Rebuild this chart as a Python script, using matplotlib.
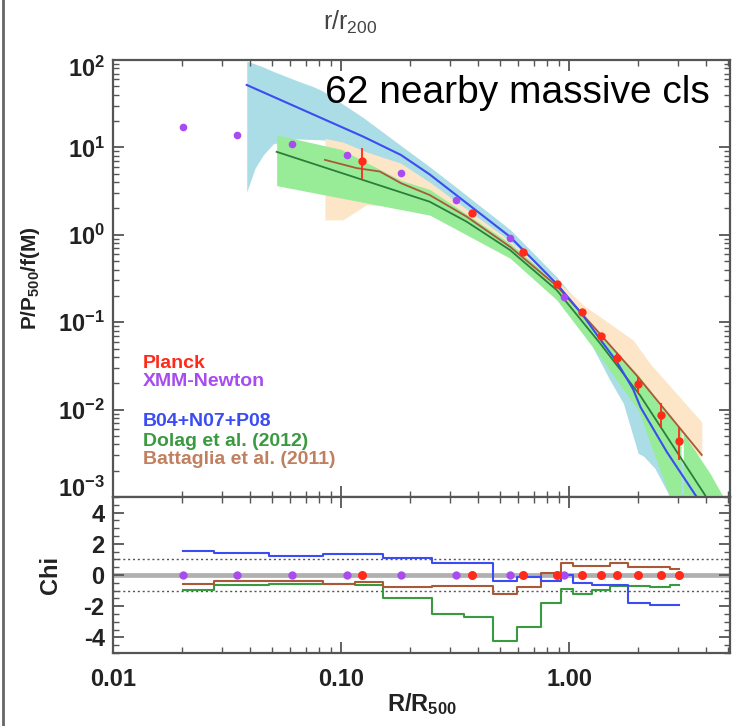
import numpy as np
import matplotlib
matplotlib.use('Agg')
import matplotlib.pyplot as plt
import matplotlib.transforms as mtransforms
from matplotlib import font_manager
from matplotlib.lines import Line2D
from matplotlib.ticker import NullFormatter, LogLocator, MultipleLocator

plt.rcParams['font.family'] = ['Liberation Sans', 'DejaVu Sans']
plt.rcParams['mathtext.fontset'] = 'custom'
plt.rcParams['mathtext.rm'] = 'Liberation Sans'
plt.rcParams['mathtext.it'] = 'Liberation Sans:italic'
plt.rcParams['mathtext.bf'] = 'Liberation Sans:bold'

# ── data ─────────────────────────────────────────────────────────────────────
# Planck points (red) with error bars
planck_x  = [0.124, 0.374, 0.631, 0.883, 1.137, 1.38, 1.63, 2.01, 2.53, 3.03]
planck_y  = [7.0, 1.76, 0.641, 0.271, 0.132, 0.070, 0.0386, 0.0196, 0.00867, 0.00437]
planck_lo = [4.35, 1.62, 0.60, 0.255, 0.124, 0.065, 0.034, 0.0154, 0.00637, 0.00265]
planck_hi = [9.8, 1.90, 0.68, 0.287, 0.140, 0.075, 0.044, 0.0238, 0.0118, 0.00637]

# XMM-Newton points (purple)
xmm_x = [0.0202, 0.0351, 0.0611, 0.106, 0.183, 0.318, 0.551, 0.953]
xmm_y = [17.0, 13.9, 10.9, 8.2, 5.05, 2.50, 0.91, 0.196]

# B04+N07+P08 (blue) line and band
b04_x = [0.0386, 0.125, 0.183, 0.245, 0.32, 0.551, 0.883, 1.137, 1.38, 1.62, 1.91, 2.06, 2.68, 3.63, 4.0]
b04_y = [51.8, 13.3, 8.2, 4.9, 2.85, 0.95, 0.275, 0.125, 0.062, 0.0353, 0.0171, 0.0106, 0.0033, 0.001, 0.0006]
b04_bx = [0.0386, 0.042, 0.0456, 0.0505, 0.064, 0.0757, 0.0834, 0.125, 0.183, 0.245, 0.32, 0.551,
          0.883, 1.137, 1.51, 1.73, 2.01, 2.12, 2.38, 2.77, 3.0, 3.63, 4.2]
b04_up = [97, 90, 83, 74, 58, 49.5, 44, 22, 10.5, 6.0, 3.5, 1.15,
          0.33, 0.15, 0.058, 0.034, 0.016, 0.0125, 0.0075, 0.0040, 0.0030, 0.0013, 0.0006]
b04_lo = [3.1, 5.8, 8.2, 11.0, 12.5, 12.3, 12.2, 9.0, 5.5, 3.6, 2.1, 0.75,
          0.22, 0.09, 0.0218, 0.0118, 0.00316, 0.00294, 0.00213, 0.001, 0.0007, 0.0003, 0.0002]

# Dolag et al. (2012) (green) line and band
dol_x = [0.0522, 0.245, 0.356, 0.551, 0.883, 1.37, 2.05, 3.95, 4.3]
dol_y = [8.9, 2.39, 1.41, 0.67, 0.233, 0.057, 0.0145, 0.00105, 0.0006]
dol_tx = [0.0522, 0.1, 0.183, 0.245, 0.551, 0.883, 1.156, 2.01, 3.17, 4.15, 4.75, 5.2]
dol_top = [13.9, 9.5, 4.2, 3.3, 0.80, 0.28, 0.1156, 0.0249, 0.00536, 0.00187, 0.001, 0.0005]
dol_bx = [0.0522, 0.245, 0.551, 0.883, 1.37, 2.01, 2.77, 3.1]
dol_bot = [3.65, 1.68, 0.54, 0.18, 0.040, 0.0099, 0.001, 0.0005]

# Battaglia et al. (2011) (brown) line and band
bat_x = [0.085, 0.117, 0.148, 0.183, 0.245, 0.356, 0.551, 0.883, 1.32, 2.01, 3.82]
bat_y = [7.2, 5.8, 5.3, 3.9, 2.85, 1.61, 0.73, 0.26, 0.0815, 0.0235, 0.00303]
bat_bx = [0.085, 0.102, 0.129, 0.183, 0.245, 0.32, 0.551, 0.883, 1.156, 1.91, 2.26, 3.75, 3.82]
bat_up = [12.7, 11.5, 8.9, 6.6, 4.0, 2.4, 0.85, 0.30, 0.157, 0.0625, 0.0339, 0.0076, 0.0072]
bat_lo = [1.48, 1.48, 2.2, 2.1, 1.8, 1.2, 0.58, 0.2, 0.09, 0.02, 0.009, 0.0029, 0.0029]

# chi of each model at the combined data radii
chi_x = [0.0202, 0.0351, 0.0611, 0.106, 0.124, 0.183, 0.318, 0.374, 0.551,
         0.631, 0.883, 0.953, 1.137, 1.38, 1.63, 2.01, 2.53, 3.03]
chi_b04 = [1.56, 1.43, 1.22, 1.32, 1.32, 1.07, 0.79, 0.79, -0.36,
           -0.11, -0.36, 0.0, -0.53, -0.64, -0.64, -1.81, -1.92, -1.92]
chi_dol = [-0.96, -0.64, -0.58, -0.58, -0.64, -1.50, -2.50, -2.67, -4.21,
           -3.31, -1.81, -0.92, -1.22, -0.96, -0.68, -0.68, -0.78, -0.64]
chi_bat = [-0.60, -0.36, -0.36, -0.60, -0.47, -0.80, -0.70, -0.70, -1.22,
           -0.79, 0.10, 0.75, 0.58, 0.58, 0.75, 0.53, 0.53, 0.36]

p_ticks = [1e-3, 1e-2, 1e-1, 1e0, 1e1, 1e2]
p_ticklabels = [r'$\mathbf{10^{%d}}$' % e for e in range(-3, 3)]
chi_ticks = [-4, -2, 0, 2, 4]
chi_ticklabels = ['-4', '-2', '0', '2', '4']
r_ticks = [0.01, 0.1, 1.0]
r_ticklabels = ['0.01', '0.10', '1.00']

legend_labels = ['Planck', 'XMM-Newton', 'B04+N07+P08', 'Dolag et al. (2012)', 'Battaglia et al. (2011)']

# ── colours ──────────────────────────────────────────────────────────────────
c_planck = '#ff2a1a'
c_xmm = '#a84cf0'
c_blue = '#3a4cf2'
c_green_line = '#2b7d3a'
c_green = '#3a9a40'
c_brown = '#a85a38'
c_brown_txt = '#c08060'
band_blue = '#aadde6'
band_green = '#98ec98'
band_peach = '#fde5c8'
frame = '#555555'
txt = '#222222'

W, H = 739, 726
fig = plt.figure(figsize=(W / 100, H / 100), dpi=100)
fig.patch.set_facecolor('white')

def box(l, t, r, b):
    return [l / W, 1 - b / H, (r - l) / W, (b - t) / H]

ax = fig.add_axes(box(113, 60, 730, 497))
axc = fig.add_axes(box(113, 497, 730, 653), sharex=ax)

# ── upper panel ──────────────────────────────────────────────────────────────
ax.fill_between(b04_bx, b04_lo, b04_up, color=band_blue, lw=0, zorder=1)
ax.fill_between(bat_bx, bat_lo, bat_up, color=band_peach, lw=0, zorder=2)
gx = np.union1d(dol_tx, dol_bx)
gx = gx[gx <= dol_bx[-1]]
g_top = 10 ** np.interp(np.log10(gx), np.log10(dol_tx), np.log10(dol_top))
g_bot = 10 ** np.interp(np.log10(gx), np.log10(dol_bx), np.log10(dol_bot))
ax.fill_between(gx, g_bot, g_top, color=band_green, lw=0, zorder=3)
gx2 = [x for x in dol_tx if x >= dol_bx[-1]]
g_top2 = [10 ** np.interp(np.log10(x), np.log10(dol_tx), np.log10(dol_top)) for x in gx2]
ax.fill_between(gx2, 1e-5, g_top2, color=band_green, lw=0, zorder=3)

ax.plot(bat_x, bat_y, color=c_brown, lw=1.3, zorder=4)
ax.plot(dol_x, dol_y, color=c_green_line, lw=1.3, zorder=5)
ax.plot(b04_x, b04_y, color=c_blue, lw=1.5, zorder=6)

ax.plot(xmm_x, xmm_y, 'o', color=c_xmm, ms=5.5, mec='none', zorder=7)
p_y = np.array(planck_y)
yerr = [p_y - np.array(planck_lo), np.array(planck_hi) - p_y]
ax.errorbar(planck_x, planck_y, yerr=yerr, fmt='o', color=c_planck, ms=6, mec='none',
            elinewidth=1.3, capsize=0, zorder=8)

ax.set_xscale('log')
ax.set_yscale('log')
ax.set_xlim(0.01, 5.08)
ax.set_ylim(1e-3, 1e2)
ax.set_yticks(p_ticks, p_ticklabels)
ax.yaxis.set_minor_locator(LogLocator(base=10, subs=np.arange(2, 10), numticks=20))
ax.yaxis.set_minor_formatter(NullFormatter())

try:
    font_manager.findfont('Liberation Sans Narrow', fallback_to_default=False)
    title_font, title_size = 'Liberation Sans Narrow', 34
except ValueError:
    title_font, title_size = 'Liberation Sans', 28
fig.text(710 / W, 1 - 103 / H, '62 nearby massive cls', ha='right', va='baseline',
         fontsize=title_size, family=title_font, color='black')

leg_colors = [c_planck, c_xmm, c_blue, c_green, c_brown_txt]
leg_y = [363, 382, 421, 441, 460]
for lab, col, yy in zip(legend_labels, leg_colors, leg_y):
    fig.text(143 / W, 1 - yy / H, lab, ha='left', va='center', fontsize=14,
             fontweight='bold', color=col)

ax.set_ylabel(r'$\mathbf{P/P_{500}/f(M)}$', fontsize=15, color=txt)
ax.yaxis.set_label_coords((42 - 113) / 617, 0.5)

# ── lower panel ──────────────────────────────────────────────────────────────
axc.axhline(0, color='#b0b0b0', lw=3.4, zorder=1)
axc.axhline(1, color='#555555', lw=1.0, ls=(0, (1.5, 2.0)), zorder=1)
axc.axhline(-1, color='#555555', lw=1.0, ls=(0, (1.5, 2.0)), zorder=1)
axc.plot(chi_x, chi_b04, drawstyle='steps-mid', color=c_blue, lw=1.5, zorder=3)
axc.plot(chi_x, chi_dol, drawstyle='steps-mid', color=c_green, lw=1.5, zorder=2)
axc.plot(chi_x, chi_bat, drawstyle='steps-mid', color=c_brown, lw=1.5, zorder=2)
axc.plot(xmm_x, np.zeros(len(xmm_x)), 'o', color=c_xmm, ms=6, mec='none', zorder=4)
axc.plot(planck_x, np.zeros(len(planck_x)), 'o', color=c_planck, ms=6.5, mec='none', zorder=5)

axc.set_ylim(-5, 5)
axc.set_yticks(chi_ticks, chi_ticklabels, fontweight='bold')
axc.yaxis.set_minor_locator(MultipleLocator(0.5))
axc.set_ylabel('Chi', fontsize=17, fontweight='bold', color=txt)
axc.yaxis.set_label_coords((62 - 113) / 617, 0.5)

axc.set_xticks(r_ticks, r_ticklabels, fontweight='bold')
axc.xaxis.set_minor_locator(LogLocator(base=10, subs=np.arange(2, 10), numticks=20))
axc.xaxis.set_minor_formatter(NullFormatter())
axc.set_xlabel(r'$\mathbf{R/R_{500}}$', fontsize=17, color=txt)
axc.xaxis.set_label_coords(0.5, (653 - 691) / 156)

for a in (ax, axc):
    for sp in a.spines.values():
        sp.set_color(frame)
        sp.set_linewidth(1.6)
    a.tick_params(which='both', direction='in', top=True, right=True, color=frame)
    a.tick_params(which='major', length=8, width=1.3, labelsize=17, labelcolor=txt, pad=6)
    a.tick_params(which='minor', length=4, width=1.0)
ax.tick_params(axis='x', which='both', labelbottom=False)
axc.tick_params(axis='x', which='major', pad=11)

# keep the end labels of the log axis inside the panel, as in the original
ticks = ax.yaxis.get_major_ticks()
for t, dy in ((ticks[0], 10), (ticks[-1], -7)):
    t.label1.set_transform(t.label1.get_transform()
                           + mtransforms.ScaledTranslation(0, dy / 100, fig.dpi_scale_trans))

fig.text(350 / W, 1 - 22 / H, r'r/r$_{200}$', ha='center', va='center', fontsize=18, color='#444444')
fig.add_artist(Line2D([2.5 / W, 2.5 / W], [0, 1], transform=fig.transFigure, color='#666666', lw=2))

fig.savefig('out.png', dpi=100, facecolor='white')
